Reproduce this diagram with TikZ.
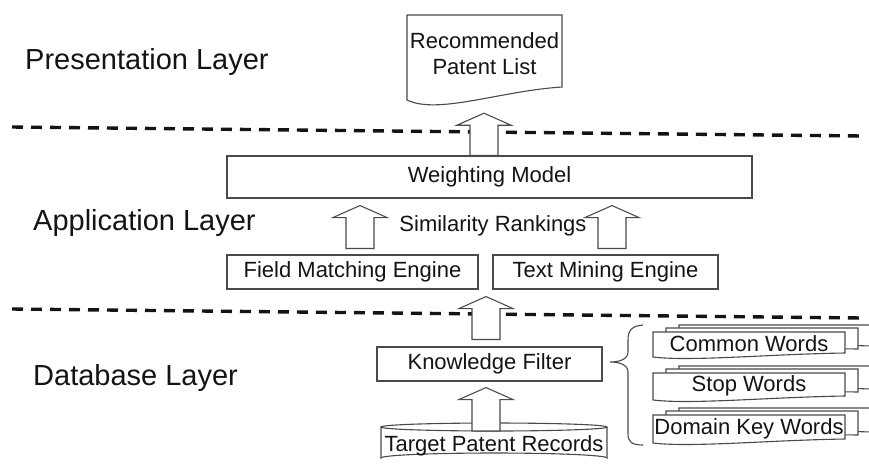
\documentclass[tikz,border=0pt]{standalone}
\usepackage{fontspec}
\setmainfont{Liberation Sans}
\usetikzlibrary{calc}
\definecolor{edge}{HTML}{4A4A4A}
\definecolor{ink}{HTML}{141414}
\newcommand\boxfont{\fontsize{22}{25}\selectfont}
\newcommand\layerfont{\fontsize{29}{33}\selectfont}
% document outline: x1, ytop, x2, yleftbottom, yrightbottom
\newcommand\docpath[5]{(#1,#2) -- (#3,#2) -- (#3,#5) .. controls ({#3-0.4*(#3-#1)},{#5+0.3*(#4-#5)}) and ({#1+0.2*(#3-#1)},{#4+1.15*(#4-#5)}) .. (#1,#4) -- cycle}
% block arrow: x, from anchor, to anchor, gap at bottom, gap at top
\newcommand\blockup[5]{\draw[blk] let \p1=(#2), \p2=(#3) in
  (#1pt-14pt,\y1+#4pt) -- (#1pt-14pt,\y2-#5pt-12pt) -- (#1pt-27pt,\y2-#5pt-12pt) -- (#1pt,\y2-#5pt)
  -- (#1pt+27pt,\y2-#5pt-12pt) -- (#1pt+14pt,\y2-#5pt-12pt) -- (#1pt+14pt,\y1+#4pt) -- cycle;}
% multi document: x1, ytop, x2, yleftbottom, yrightbottom
\newcommand\multidoc[5]{%
  \draw[sheet] \docpath{#1+26}{#2-7}{#3+26}{#4-7}{#5-7};
  \draw[sheet] \docpath{#1+13}{#2-4}{#3+13}{#4-4}{#5-4};
  \draw[sheet] \docpath{#1}{#2}{#3}{#4}{#5};}
\tikzset{
  box/.style={draw=edge, line width=1.1pt, fill=white, inner sep=0pt, text=ink, font=\boxfont},
  lbl/.style={inner sep=0pt, text=ink, font=\boxfont},
  layer/.style={inner sep=0pt, anchor=base west, text=ink, font=\layerfont},
  sheet/.style={draw=edge, line width=1.1pt, fill=white},
  blk/.style={draw=edge, line width=1.1pt, fill=white},
  sep/.style={draw=ink, line width=3.4pt, dash pattern=on 11pt off 8pt},
  brace/.style={draw=edge, line width=1.1pt}
}
\begin{document}
\begin{tikzpicture}[x=1pt,y=-1pt]
\useasboundingbox (0,0) rectangle (869,464);
% layer separators
\coordinate (s1a) at (12,127); \coordinate (s1b) at (862,136);
\coordinate (s2a) at (12,309); \coordinate (s2b) at (862,318);
\draw[sep] (s1a) -- (s1b);
\draw[sep] (s2a) -- (s2b);
% layer labels
\node[layer] (pl) at (25,69) {Presentation Layer};
\node[layer] (al) at (33,230) {Application Layer};
\node[layer] (dl) at (33,385) {Database Layer};
% presentation: recommended patent list (document shape)
\draw[sheet] \docpath{407}{15}{562}{100}{87};
\node[lbl, minimum width=155pt, minimum height=77pt, align=center] (rec) at (484.5,53.5) {Recommended\\[1pt]Patent List};
% application layer
\node[box, minimum width=525pt, minimum height=42pt] (wm) at (489.5,177) {Weighting Model};
\node[box, minimum width=251pt, minimum height=34pt] (fme) at (352.5,272) {Field Matching Engine};
\node[box, minimum width=225pt, minimum height=34pt] (tme) at (605.5,272) {Text Mining Engine};
\node[lbl] (sr) at (493,226) {Similarity Rankings};
% database layer
\node[box, minimum width=225pt, minimum height=34pt] (kf) at (489.5,364) {Knowledge Filter};
% cylinder
\draw[sheet] (381,427) -- (381,458) arc[start angle=180, end angle=360, x radius=113, y radius=5] -- (607,427);
\draw[sheet] (494,427) ellipse[x radius=113, y radius=4];
\node[lbl] (tpr) at (494,446) {Target Patent Records};
\coordinate (cyltop) at (494,431);
% multi-document stacks
\multidoc{653}{332}{845}{357}{353}
\node[lbl] (cw) at (749,344) {Common Words};
\multidoc{653}{373}{845}{400}{396}
\node[lbl] (sw) at (749,386) {Stop Words};
\multidoc{653}{415}{845}{443}{439}
\node[lbl] (dkw) at (749,429) {Domain Key Words};
% brace
\coordinate (bt) at (643,325); \coordinate (bb) at (643,445); \coordinate (btip) at (610,362);
\draw[brace] (bt) .. controls (632,326) and (628,330) .. (628,340) -- (628,352)
  .. controls (628,359) and (620,362) .. (btip)
  .. controls (620,362) and (628,365) .. (628,372) -- (628,434)
  .. controls (628,442) and (632,445) .. (bb);
% block arrows
\blockup{484}{wm.north}{rec.south}{0}{21}
\blockup{360}{fme.north}{wm.south}{6}{7}
\blockup{612}{tme.north}{wm.south}{6}{7}
\blockup{486}{kf.north}{fme.south}{7}{7}
\blockup{486}{cyltop}{kf.south}{0}{6}
\end{tikzpicture}
\end{document}
